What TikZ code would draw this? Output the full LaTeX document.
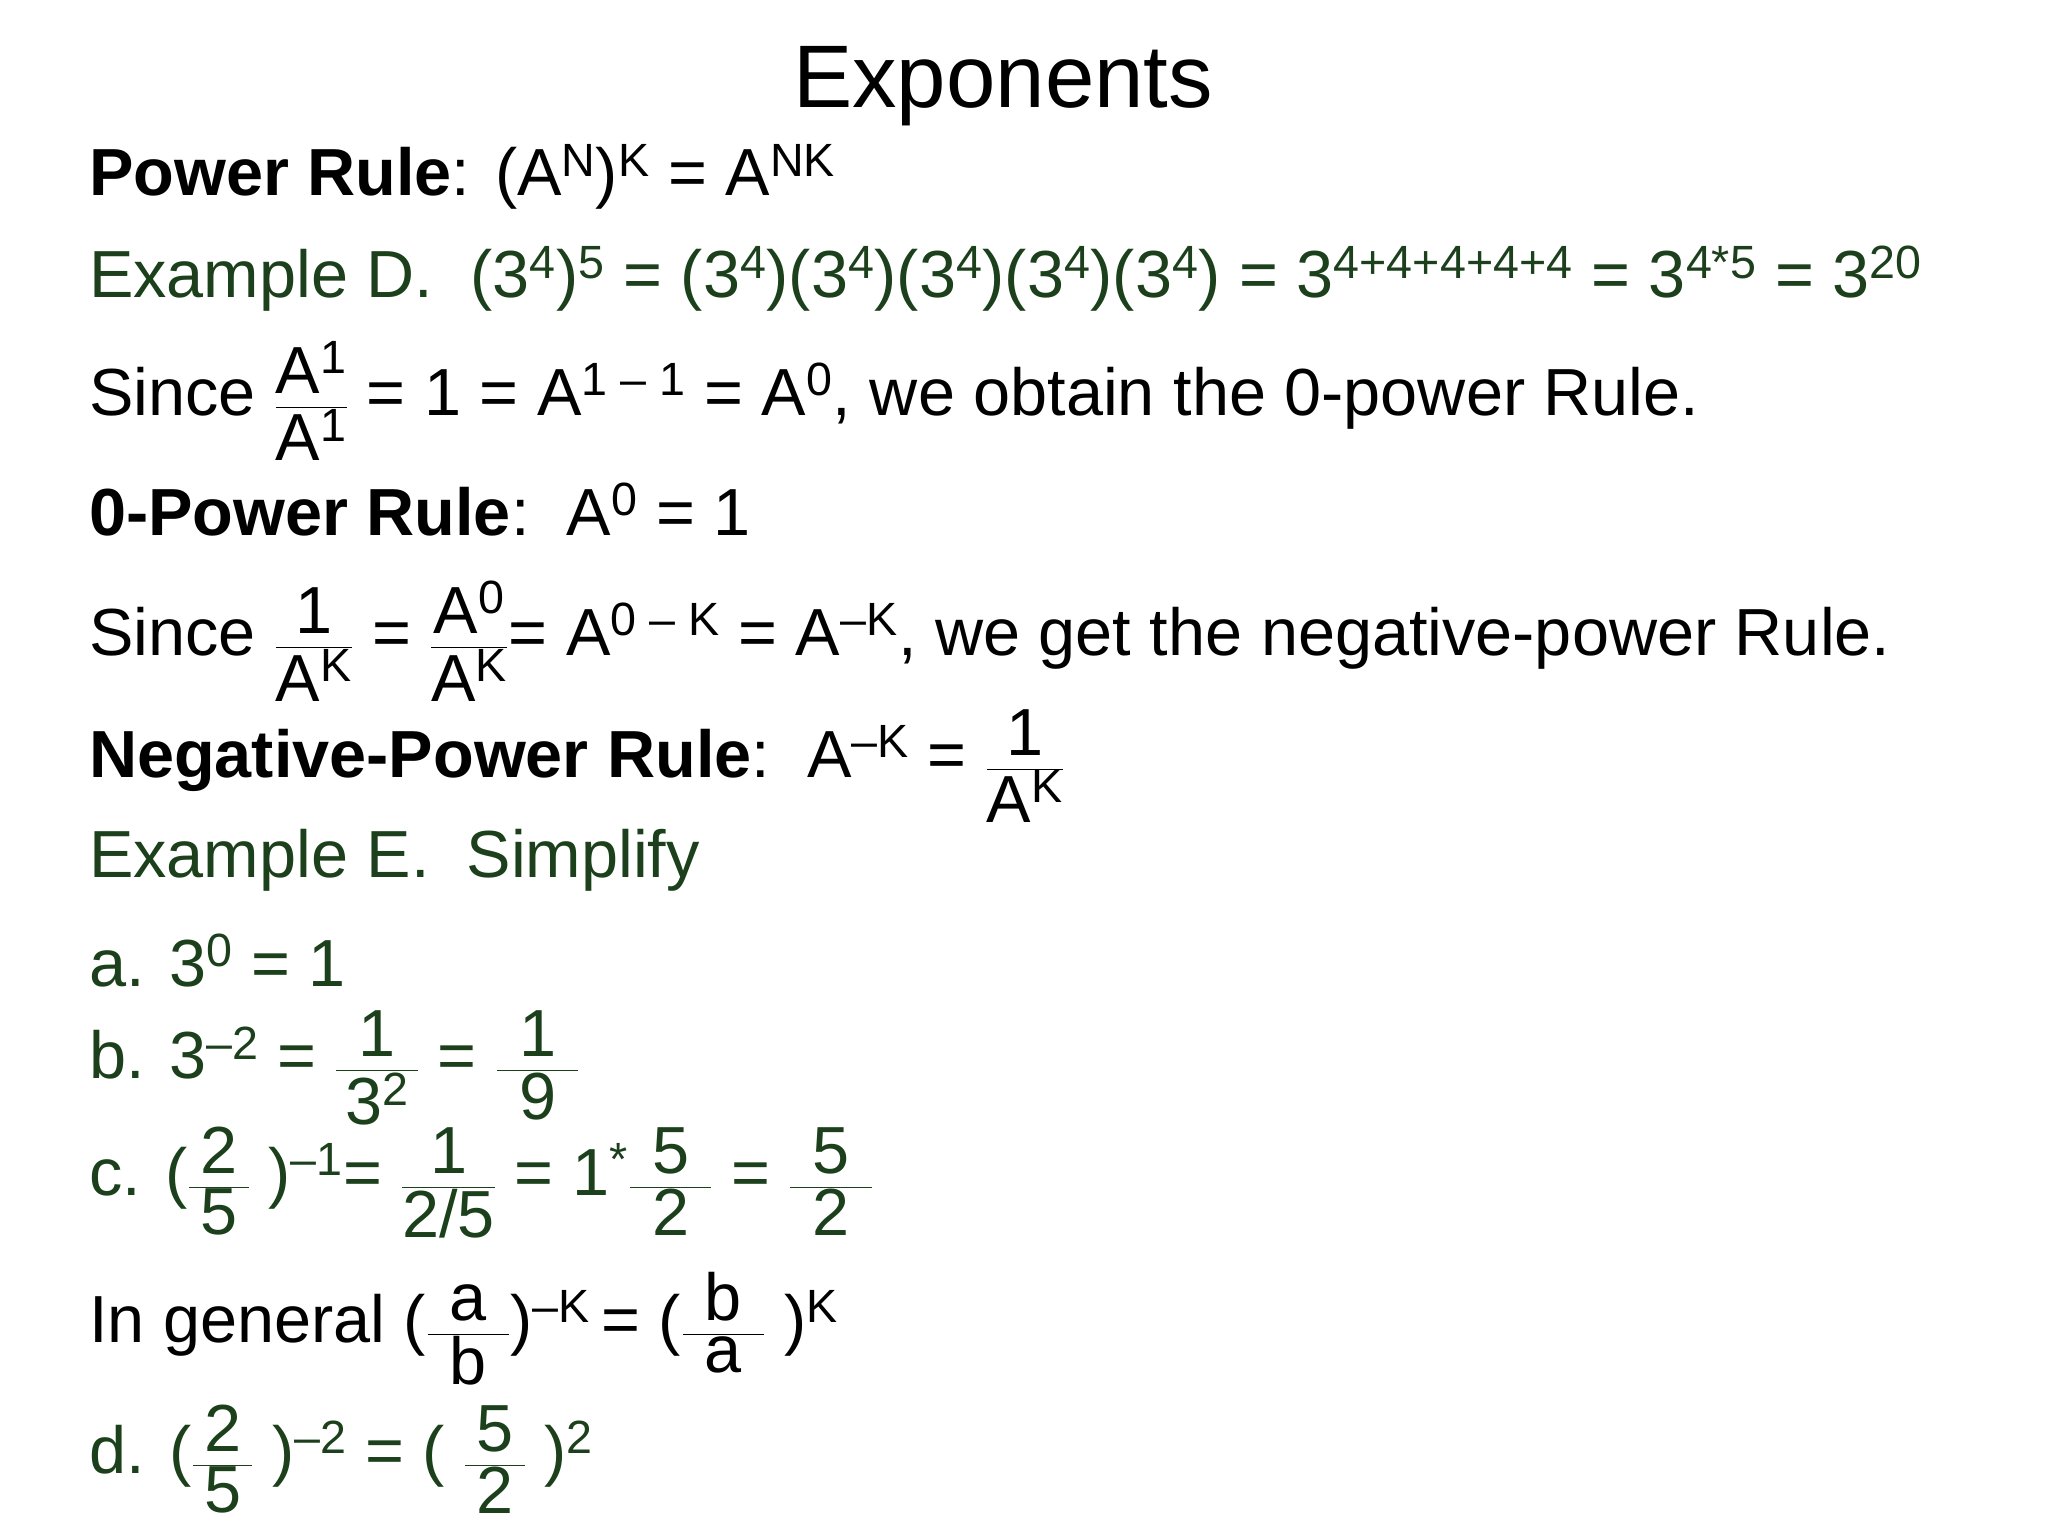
\documentclass[tikz,border=0pt]{standalone}
\usepackage{fontspec}
\setmainfont{Liberation Sans}
\definecolor{dg}{HTML}{1B401B}
\newcommand\Fr[2]{$\displaystyle\frac{\hbox{#1}}{\hbox{#2}}$}
\newcommand\su[1]{\raisebox{0.12em}{\textsuperscript{#1}}}
\begin{document}
\begin{tikzpicture}[x=1pt,y=1pt,
  ln/.style={anchor=base west,inner sep=0pt,font=\fontsize{51}{61}\selectfont},
  g/.style={ln,text=dg}]
\useasboundingbox (0,0) rectangle (1568,-1176);
\node[anchor=base,inner sep=0pt,font=\fontsize{68}{78}\selectfont] (t) at (768,-82) {Exponents};
\node[ln] (l1) at (68,-150) {\textbf{Power Rule}: (A\su{N})\su{K} = A\su{NK}};
\node[g] (l2) at (68,-228) {Example D.\ \ (3\su{4})\su{5} = (3\su{4})(3\su{4})(3\su{4})(3\su{4})(3\su{4}) = 3\su{4+4+4+4+4} = 3\su{4*5} = 3\su{20}};
\node[ln] (l3) at (68,-318) {Since \Fr{A\su{1}}{A\su{1}} = 1 = A\su{1 – 1} = A\su{0}, we obtain the 0-power Rule.};
\node[ln] (l4) at (68,-410) {\textbf{0-Power Rule}:\ \ A\su{0} = 1};
\node[ln] (l5) at (68,-502) {Since \Fr{1}{A\su{K}} = \Fr{A\su{0}}{A\su{K}}= A\su{0 – K} = A\su{–K}, we get the negative-power Rule.};
\node[ln] (l6) at (68,-595) {\textbf{Negative-Power Rule}:\ \ A\su{–K} = \Fr{1}{A\su{K}}};
\node[g] (l7) at (68,-672) {Example E.\ \ Simplify};
\node[g] (l8) at (68,-755) {a. 3\su{0} = 1};
\node[g] (l9) at (68,-826) {b. 3\su{–2} = \Fr{\,\,1\,\,}{3\su{2}} = \Fr{\,\,1\,\,}{9}};
\node[g] (l10) at (68,-915) {c. (\Fr{\,2\,}{5} )\su{–1}= \Fr{1}{2/5} = 1\su{*}\Fr{\,\,5\,\,}{2} = \Fr{\,\,5\,\,}{2}};
\node[ln] (l11) at (68,-1028) {In general (\Fr{\,\,a\,\,}{b})\su{–K}\,= (\Fr{\,\,b\,\,}{a} )\su{K}};
\node[g] (l12) at (68,-1128) {d. (\Fr{\,2\,}{5} )\su{–2} = ( \Fr{\,5\,}{2} )\su{2}};
\end{tikzpicture}
\end{document}
